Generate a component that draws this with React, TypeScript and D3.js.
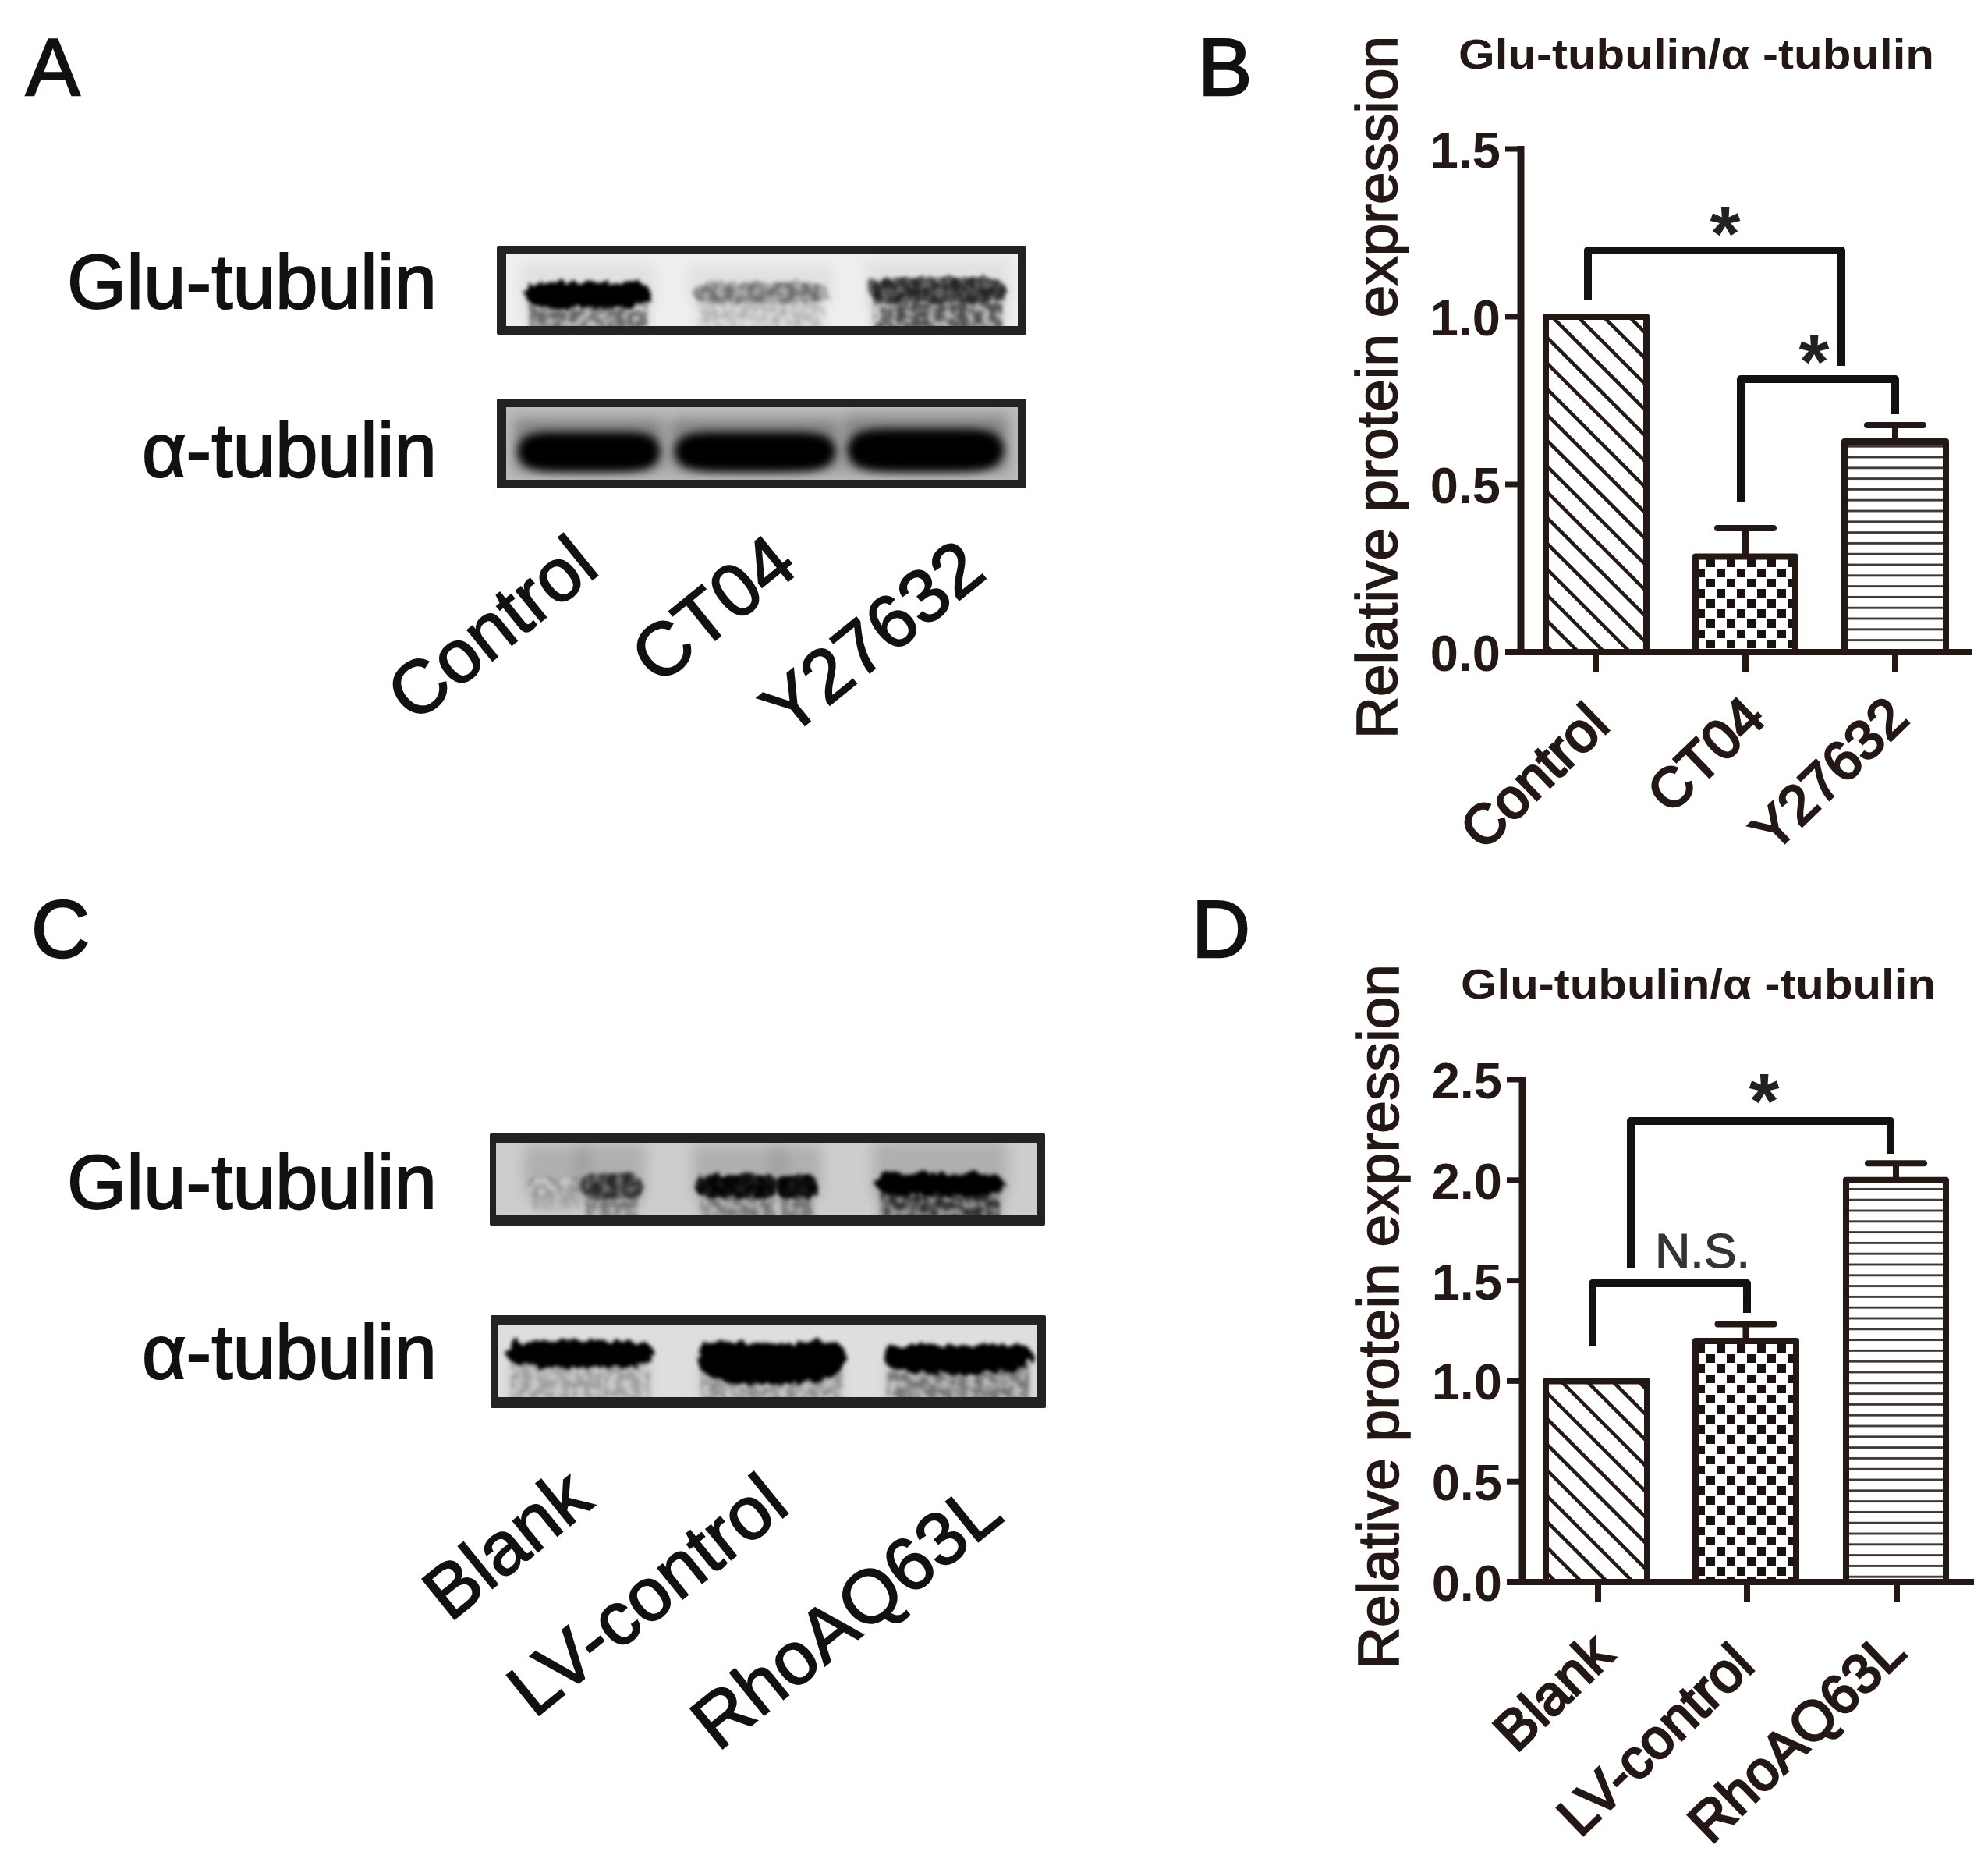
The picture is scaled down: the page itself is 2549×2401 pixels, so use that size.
import React from "react";
import * as d3 from "d3";

// ---------- data ----------
const catsB = ["Control", "CT04", "Y27632"];
const valsB = [1.0, 0.285, 0.628];
const errsB = [null, 0.37, 0.677];
const ticksB = [0, 0.5, 1.0, 1.5];

const catsD = ["Blank", "LV-control", "RhoAQ63L"];
const valsD = [1.0, 1.2, 2.0];
const errsD = [null, 1.283, 2.084];
const ticksD = [0, 0.5, 1.0, 1.5, 2.0, 2.5];

const titleText = "Glu-tubulin/α -tubulin";
const yLabel = "Relative protein expression";
const blotNames = ["Glu-tubulin", "α-tubulin"];

// band darkness per lane (0 white .. 1 black) and the smear under the band
const aGluBand = [1, 0.33, 0.62];
const aGluSmear = [0.45, 0.16, 0.55];
const aTubBand = [1, 1, 1];
const cGluBand = [0.22, 0.6, 0.88, 0.88, 1];
const cGluSmear = [0.12, 0.3, 0.32, 0.32, 0.65];
const cTubBand = [1, 1, 1];
const cTubSmear = [0.2, 0.26, 0.36];

const INK = "#231815";
const FONT = "'Liberation Sans', Arial, sans-serif";

type Lane = { x0: number; x1: number; t: number; b: number; sag: number; smearTo?: number };

function bandPath(l: Lane) {
  const pts = d3.range(0, 1.0001, 1 / 28);
  const mid = (u: number) => (l.t + l.b) / 2 + l.sag * (1 - (2 * u - 1) ** 2);
  const half = (u: number) => ((l.b - l.t) / 2) * Math.pow(1 - Math.pow(2 * u - 1, 6), 0.5);
  const area = d3
    .area<number>()
    .x((u) => l.x0 + (l.x1 - l.x0) * u)
    .y0((u) => mid(u) - half(u))
    .y1((u) => mid(u) + half(u))
    .curve(d3.curveCatmullRom);
  return area(pts) as string;
}

function Blot(p: {
  id: string;
  outer: [number, number, number, number];
  inner: [number, number, number, number];
  bg: string;
  lanes: Lane[];
  band: number[];
  smear?: number[];
  rough: boolean;
  halo?: number;
  haloOpacity?: number;
}) {
  const [ox0, oy0, ox1, oy1] = p.outer;
  const [ix0, iy0, ix1, iy1] = p.inner;
  const grey = (v: number) => d3.rgb(255 * (1 - v), 255 * (1 - v), 255 * (1 - v)).formatHex();
  return (
    <g>
      <clipPath id={p.id + "c"}>
        <rect x={ix0} y={iy0} width={ix1 - ix0} height={iy1 - iy0} />
      </clipPath>
      <rect x={ox0} y={oy0} width={ox1 - ox0} height={oy1 - oy0} fill="#222" rx={2} />
      <rect x={ix0} y={iy0} width={ix1 - ix0} height={iy1 - iy0} fill={p.bg} />
      <g clipPath={`url(#${p.id}c)`}>
        {p.lanes.map((l, i) => (
          <g key={i}>
            {p.halo !== undefined && (
              <rect
                x={l.x0 - 4}
                y={l.t - p.halo}
                width={l.x1 - l.x0 + 8}
                height={l.b - l.t + p.halo}
                fill="#000"
                opacity={p.haloOpacity ?? 0.16}
                filter="url(#soft)"
              />
            )}
            {p.smear && l.smearTo !== undefined && (
              <>
                <rect
                  x={l.x0 + 8}
                  y={(l.t + l.b) / 2}
                  width={l.x1 - l.x0 - 16}
                  height={l.smearTo - (l.t + l.b) / 2 + 12}
                  fill="#000"
                  opacity={p.smear[i] * 0.45}
                  filter="url(#soft)"
                />
                <rect
                  x={l.x0 + 6}
                  y={(l.t + l.b) / 2}
                  width={l.x1 - l.x0 - 12}
                  height={l.smearTo - (l.t + l.b) / 2 + 12}
                  fill="#000"
                  opacity={p.smear[i]}
                  filter="url(#speckle)"
                />
              </>
            )}
            <path d={bandPath(l)} fill={grey(p.band[i])} filter={p.rough ? "url(#rough)" : "url(#softband)"} />
            {p.rough && p.band[i] < 0.95 && (
              <path d={bandPath(l)} fill="#000" opacity={p.band[i]} filter="url(#speckle)" />
            )}
          </g>
        ))}
      </g>
    </g>
  );
}

function BarPanel(p: {
  cats: string[];
  vals: number[];
  errs: (number | null)[];
  ticks: number[];
  domainMax: number;
  y0: number;
  y1: number;
  axisX: number;
  axisRight: number;
  barEdges: [number, number][];
  xTicks: number[];
  tickBottom: number;
  titleX: [number, number];
  titleY: number;
  yLab: { x: number; top: number; bottom: number };
  catCenters: [number, number][];
  checkId: string;
}) {
  const y = d3.scaleLinear().domain([0, p.domainMax]).range([p.y0, p.y1]);
  const patterns = ["url(#hatch)", `url(#${p.checkId})`, "url(#hline)"];
  return (
    <g>
      <text
        x={p.titleX[0]}
        y={p.titleY}
        fontFamily={FONT}
        fontWeight={700}
        fontSize={54}
        fill={INK}
        textLength={p.titleX[1] - p.titleX[0]}
        lengthAdjust="spacingAndGlyphs"
      >
        {titleText}
      </text>
      <text
        transform={`translate(${p.yLab.x},${p.yLab.bottom}) rotate(-90)`}
        fontFamily={FONT}
        fontSize={74}
        fill={INK}
        stroke={INK}
        strokeWidth={1.6}
        textLength={p.yLab.bottom - p.yLab.top}
        lengthAdjust="spacingAndGlyphs"
      >
        {yLabel}
      </text>
      {p.cats.map((c, i) => {
        const [x0, x1] = p.barEdges[i];
        const cx = p.xTicks[i];
        const e = p.errs[i];
        return (
          <g key={c}>
            {e !== null && (
              <path
                d={`M${(x0 + x1) / 2},${y(p.vals[i])}V${y(e)}M${(x0 + x1) / 2 - 36},${y(e)}H${(x0 + x1) / 2 + 36}`}
                stroke={INK}
                strokeWidth={8}
                fill="none"
                strokeLinecap="round"
              />
            )}
            <rect x={x0 + 4} y={y(p.vals[i])} width={x1 - x0 - 8} height={p.y0 - y(p.vals[i])} fill="#fff" />
            <rect
              x={x0 + 4}
              y={y(p.vals[i])}
              width={x1 - x0 - 8}
              height={p.y0 - y(p.vals[i])}
              fill={patterns[i]}
              stroke={INK}
              strokeWidth={8}
              strokeLinejoin="round"
            />
            <line x1={cx} x2={cx} y1={p.y0} y2={p.tickBottom} stroke={INK} strokeWidth={8} />
          </g>
        );
      })}
      <line x1={p.axisX} x2={p.axisX} y1={y(p.domainMax) - 4} y2={p.y0 + 4} stroke={INK} strokeWidth={9} />
      <line x1={p.axisX - 20} x2={p.axisRight} y1={p.y0} y2={p.y0} stroke={INK} strokeWidth={8} />
      {p.ticks.map((t) => (
        <g key={t}>
          <line x1={p.axisX - 20} x2={p.axisX} y1={y(t)} y2={y(t)} stroke={INK} strokeWidth={7} />
          <text
            x={p.axisX - 26}
            y={y(t) + 24}
            textAnchor="end"
            fontFamily={FONT}
            fontWeight={700}
            fontSize={65}
            fill={INK}
          >
            {d3.format(".1f")(t)}
          </text>
        </g>
      ))}
      {p.cats.map((c, i) => (
        <text
          key={c}
          transform={`translate(${p.catCenters[i][0]},${p.catCenters[i][1]}) rotate(-44)`}
          textAnchor="middle"
          dominantBaseline="central"
          fontFamily={FONT}
          fontSize={71}
          fill={INK}
          stroke={INK}
          strokeWidth={3}
        >
          {c}
        </text>
      ))}
    </g>
  );
}

function Bracket({ x0, x1, b0, top, b1 }: { x0: number; x1: number; b0: number; top: number; b1: number }) {
  return <path d={`M${x0},${b0}V${top}H${x1}V${b1}`} fill="none" stroke="#111" strokeWidth={10} strokeLinejoin="round" />;
}

function Star({ x, y }: { x: number; y: number }) {
  return (
    <text x={x} y={y + 58} textAnchor="middle" fontFamily={FONT} fontWeight={700} fontSize={100} fill="#222">
      *
    </text>
  );
}

function Letter({ x, y, t }: { x: number; y: number; t: string }) {
  return (
    <text x={x} y={y} fontFamily={FONT} fontSize={104} fill="#111" stroke="#111" strokeWidth={2.5}>
      {t}
    </text>
  );
}

function Rot({ x, y, t }: { x: number; y: number; t: string }) {
  return (
    <text
      transform={`translate(${x},${y}) rotate(-39)`}
      textAnchor="middle"
      dominantBaseline="central"
      fontFamily={FONT}
      fontSize={96}
      fill="#111"
      stroke="#111"
      strokeWidth={2}
    >
      {t}
    </text>
  );
}

function Side({ y, t }: { y: number; t: string }) {
  return (
    <text x={560} y={y} textAnchor="end" fontFamily={FONT} fontSize={98} fill="#111" stroke="#111" strokeWidth={2}>
      {t}
    </text>
  );
}

export default function App() {
  return (
    <svg
      width={2549}
      height={2401}
      viewBox="0 0 2549 2401"
      style={{ position: "absolute", left: 0, top: 0, display: "block", background: "#fff" }}
    >
      <defs>
        <pattern id="hatch" patternUnits="userSpaceOnUse" width={33} height={33}>
          <path d="M-8,-8L41,41M-8,25L8,41M25,-8L41,8" stroke={INK} strokeWidth={4.6} />
        </pattern>
        <pattern id="checkB" patternUnits="userSpaceOnUse" width={26} height={26} patternTransform="translate(17,1)">
          <rect x={0} y={0} width={11} height={11} fill="#1a1210" />
          <rect x={13} y={13} width={11} height={11} fill="#1a1210" />
        </pattern>
        <pattern id="checkD" patternUnits="userSpaceOnUse" width={26} height={26} patternTransform="translate(17,7)">
          <rect x={0} y={0} width={11} height={11} fill="#1a1210" />
          <rect x={13} y={13} width={11} height={11} fill="#1a1210" />
        </pattern>
        <pattern id="hline" patternUnits="userSpaceOnUse" width={10} height={13.8}>
          <rect x={0} y={5} width={10} height={2.8} fill="#3a3230" />
        </pattern>
        <filter id="rough" x="-20%" y="-40%" width="140%" height="180%">
          <feTurbulence type="fractalNoise" baseFrequency="0.09" numOctaves={2} seed={4} result="n" />
          <feDisplacementMap in="SourceGraphic" in2="n" scale={16} />
          <feGaussianBlur stdDeviation={2.6} />
        </filter>
        <filter id="softband" x="-20%" y="-60%" width="140%" height="220%">
          <feGaussianBlur stdDeviation={6} />
        </filter>
        <filter id="soft" x="-20%" y="-60%" width="140%" height="220%">
          <feGaussianBlur stdDeviation={9} />
        </filter>
        <filter id="speckle" x="-10%" y="-20%" width="120%" height="140%">
          <feTurbulence type="fractalNoise" baseFrequency="0.1" numOctaves={2} seed={9} result="n" />
          <feColorMatrix
            in="n"
            type="matrix"
            values="0 0 0 0 0 0 0 0 0 0 0 0 0 0 0 0 0 0 4.2 -1.5"
            result="a"
          />
          <feComposite in="SourceGraphic" in2="a" operator="in" />
          <feGaussianBlur stdDeviation={2.8} />
        </filter>
      </defs>

      <Letter x={33} y={122} t="A" />
      <Letter x={1536} y={122} t="B" />
      <Letter x={40} y={1227} t="C" />
      <Letter x={1528} y={1227} t="D" />

      {/* Panel A */}
      <Side y={395} t={blotNames[0]} />
      <Side y={611} t={blotNames[1]} />
      <Blot
        id="a1"
        outer={[637, 315, 1316, 429]}
        inner={[649, 326, 1305, 418]}
        bg="#eeeeee"
        rough
        halo={22}
        haloOpacity={0.05}
        lanes={[
          { x0: 672, x1: 836, t: 360, b: 392, sag: 3, smearTo: 416 },
          { x0: 887, x1: 1064, t: 362, b: 388, sag: 0, smearTo: 416 },
          { x0: 1114, x1: 1291, t: 356, b: 388, sag: 0, smearTo: 416 },
        ]}
        band={aGluBand}
        smear={aGluSmear}
      />
      <Blot
        id="a2"
        outer={[637, 511, 1316, 626]}
        inner={[649, 522, 1305, 615]}
        bg="#bcbcbc"
        rough={false}
        halo={16}
        haloOpacity={0.3}
        lanes={[
          { x0: 663, x1: 847, t: 553, b: 604, sag: 1 },
          { x0: 864, x1: 1072, t: 553, b: 604, sag: 1 },
          { x0: 1086, x1: 1288, t: 549, b: 604, sag: 1 },
        ]}
        band={aTubBand}
      />
      <Rot x={630} y={805} t={catsB[0]} />
      <Rot x={914} y={780} t={catsB[1]} />
      <Rot x={1118} y={817} t={catsB[2]} />

      {/* Panel C */}
      <Side y={1549} t={blotNames[0]} />
      <Side y={1767} t={blotNames[1]} />
      <Blot
        id="c1"
        outer={[628, 1453, 1340, 1571]}
        inner={[636, 1465, 1329, 1558]}
        bg="#cdcdcd"
        rough
        halo={40}
        haloOpacity={0.14}
        lanes={[
          { x0: 676, x1: 748, t: 1508, b: 1532, sag: 0, smearTo: 1540 },
          { x0: 745, x1: 824, t: 1505, b: 1536, sag: 0, smearTo: 1548 },
          { x0: 892, x1: 1000, t: 1507, b: 1535, sag: 0, smearTo: 1556 },
          { x0: 996, x1: 1049, t: 1507, b: 1535, sag: 0, smearTo: 1556 },
          { x0: 1123, x1: 1288, t: 1503, b: 1533, sag: 0, smearTo: 1556 },
        ]}
        band={cGluBand}
        smear={cGluSmear}
      />
      <Blot
        id="c2"
        outer={[629, 1686, 1341, 1805]}
        inner={[639, 1699, 1329, 1791]}
        bg="#dedede"
        rough
        lanes={[
          { x0: 648, x1: 840, t: 1718, b: 1752, sag: 1, smearTo: 1788 },
          { x0: 892, x1: 1086, t: 1714, b: 1766, sag: 8, smearTo: 1788 },
          { x0: 1131, x1: 1326, t: 1720, b: 1756, sag: 5, smearTo: 1788 },
        ]}
        band={cTubBand}
        smear={cTubSmear}
      />
      <Rot x={649} y={1979} t={catsD[0]} />
      <Rot x={829} y={2044} t={catsD[1]} />
      <Rot x={1084} y={2071} t={catsD[2]} />

      {/* Panel B */}
      <BarPanel
        cats={catsB}
        vals={valsB}
        errs={errsB}
        ticks={ticksB}
        domainMax={1.5}
        y0={836}
        y1={191}
        axisX={1950}
        axisRight={2528}
        barEdges={[
          [1978, 2115],
          [2170, 2306],
          [2361, 2499],
        ]}
        xTicks={[2046, 2238, 2430]}
        tickBottom={862}
        titleX={[1870, 2480]}
        titleY={88}
        yLab={{ x: 1791, top: 46, bottom: 947 }}
        catCenters={[
          [1967, 995],
          [2187, 967],
          [2345, 992],
        ]}
        checkId="checkB"
      />
      <Bracket x0={2036} x1={2361} b0={384} top={321} b1={469} />
      <Bracket x0={2232} x1={2430} b0={644} top={486} b1={531} />
      <Star x={2212} y={276} />
      <Star x={2326} y={440} />

      {/* Panel D */}
      <BarPanel
        cats={catsD}
        vals={valsD}
        errs={errsD}
        ticks={ticksD}
        domainMax={2.5}
        y0={2028}
        y1={1384}
        axisX={1952}
        axisRight={2531}
        barEdges={[
          [1978, 2116],
          [2170, 2307],
          [2363, 2499],
        ]}
        xTicks={[2049, 2240, 2432]}
        tickBottom={2054}
        titleX={[1873, 2482]}
        titleY={1280}
        yLab={{ x: 1793, top: 1236, bottom: 2140 }}
        catCenters={[
          [1991, 2169],
          [2122, 2230],
          [2303, 2226],
        ]}
        checkId="checkD"
      />
      <Bracket x0={2042} x1={2240} b0={1725} top={1645} b1={1683} />
      <Bracket x0={2091} x1={2424} b0={1626} top={1437} b1={1479} />
      <Star x={2262} y={1388} />
      <text
        x={2183}
        y={1625}
        textAnchor="middle"
        fontFamily={FONT}
        fontSize={63}
        fill="#333"
        stroke="#333"
        strokeWidth={1.2}
        textLength={122}
        lengthAdjust="spacingAndGlyphs"
      >
        N.S.
      </text>
    </svg>
  );
}
